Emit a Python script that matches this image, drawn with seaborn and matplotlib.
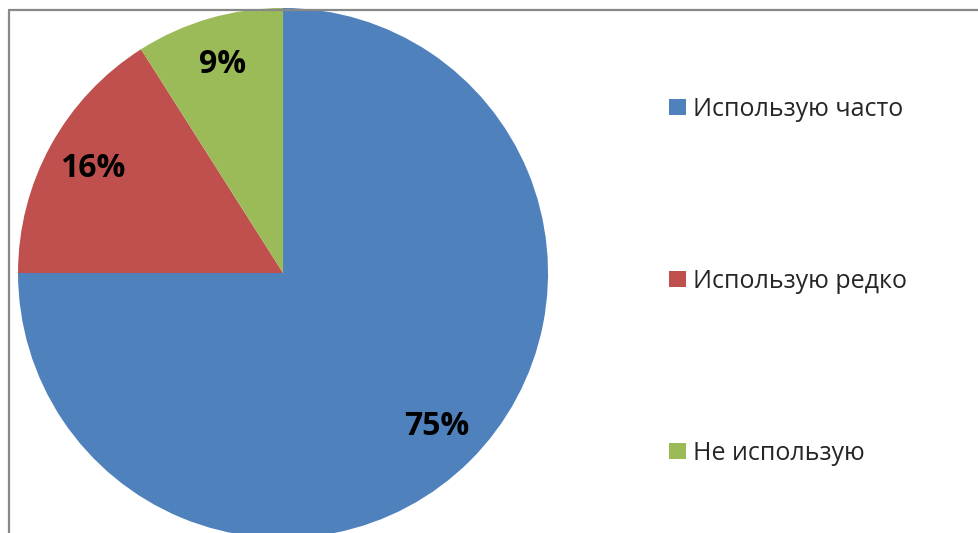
import seaborn as sns
import matplotlib.pyplot as plt
from matplotlib.lines import Line2D
from matplotlib.patches import Patch

# DATA
categories = ["Использую часто", "Использую редко", "Не использую"]
shares = [75, 16, 9]
colors = ["#4F81BD", "#C0504D", "#9BBB59"]

# PLOT SETTING
sns.set_theme(style="white")
plt.rcParams['font.family'] = ['Open Sans', 'DejaVu Sans']

fig = plt.figure(figsize=(9.79, 5.33), dpi=100)
ax = fig.add_axes([0.0184, -0.0094, 0.5414, 0.9944])

wedges, texts, autotexts = ax.pie(
    shares, colors=colors, startangle=90, counterclock=False,
    autopct=lambda p: "{:.0f}%".format(p), pctdistance=0.82,
    wedgeprops=dict(linewidth=0),
    textprops=dict(fontsize=23, fontweight="bold", color="black"),
)
ax.set_xlim(-1, 1)
ax.set_ylim(-1, 1)
ax.set_aspect("equal")
ax.axis("off")

# LEGEND
handles = [Patch(facecolor=c, edgecolor="none") for c in colors]
fig.legend(handles, categories, loc="center left", bbox_to_anchor=(0.671, 0.472),
           frameon=False, fontsize=18, handlelength=0.65, handleheight=0.65,
           handletextpad=0.3, labelspacing=5.88, borderpad=0)

# CHART FRAME
fig.add_artist(Line2D([9 / 979, 1.0], [1 - 9.5 / 533, 1 - 9.5 / 533],
                      transform=fig.transFigure, color="#888888", linewidth=1.6))
fig.add_artist(Line2D([9 / 979, 9 / 979], [0.0, 1 - 9.5 / 533],
                      transform=fig.transFigure, color="#888888", linewidth=1.6))

plt.savefig("out.png", dpi=100)
plt.close()
